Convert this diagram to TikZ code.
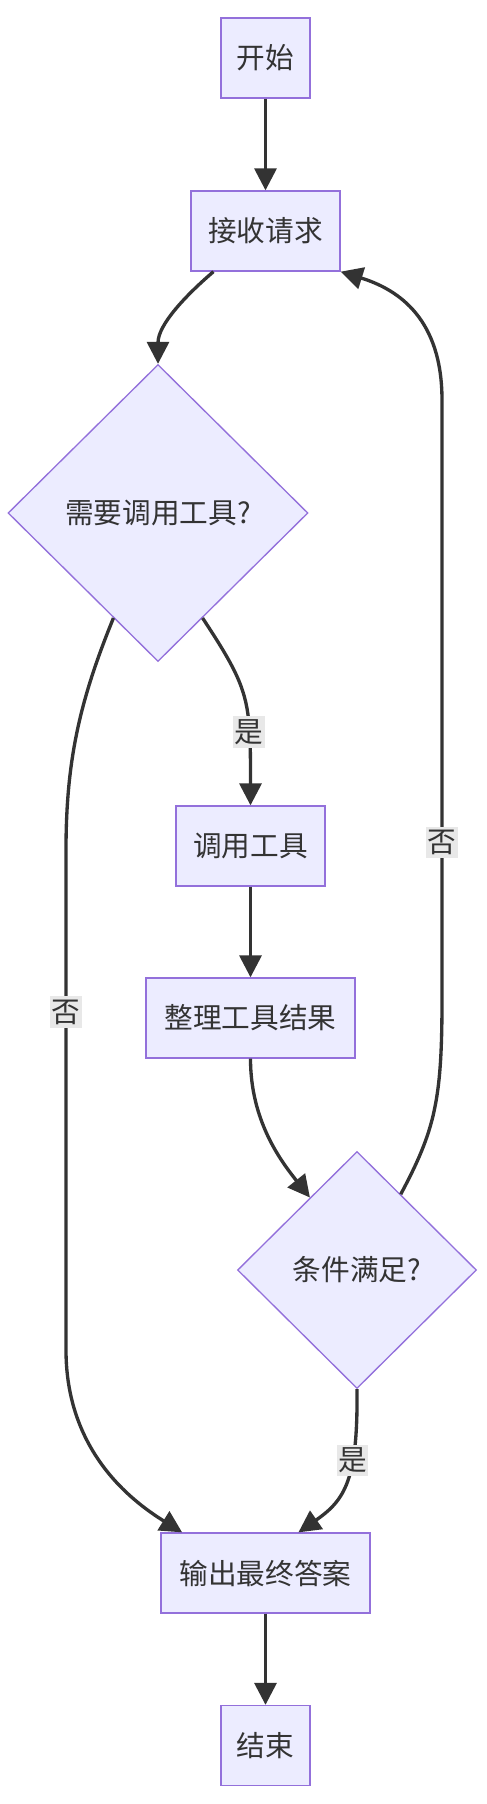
\documentclass[tikz,border=0pt]{standalone}
\usepackage{fontspec}
\setmainfont{Noto Sans CJK SC}
\usetikzlibrary{shapes.geometric,arrows.meta}

\definecolor{boxfill}{RGB}{236,236,255}
\definecolor{boxline}{RGB}{147,112,219}
\definecolor{edgeline}{RGB}{51,51,51}
\definecolor{lblfill}{RGB}{232,232,232}

\tikzset{every picture/.style={line width=0.75pt}}
\tikzset{
  procbox/.style={draw=boxline, fill=boxfill, line width=1pt, text=edgeline,
    font=\fontsize{21.5}{26}\selectfont, inner sep=0pt, minimum height=60pt},
  decbox/.style={diamond, aspect=1, draw=boxline, fill=boxfill, line width=1pt,
    text=edgeline, font=\fontsize{21.5}{26}\selectfont, inner sep=0pt},
  flow/.style={draw=edgeline, line width=2.5pt, -{Triangle[length=16.5pt,width=16.5pt]}},
  edgelbl/.style={fill=lblfill, text=edgeline, font=\fontsize{21.5}{26}\selectfont,
    inner xsep=1pt, inner ysep=2.5pt}
}

\begin{document}
\begin{tikzpicture}[x=0.75pt,y=0.75pt,yscale=-1,xscale=1]
\useasboundingbox[fill=white] (0,0) rectangle (486,1804);

%Shape: Rectangle
\node [procbox, minimum width=66.75pt] (start) at (265.5,58) {开始};
%Shape: Rectangle
\node [procbox, minimum width=111.75pt] (recv) at (265.5,231) {接收请求};
%Shape: Diamond
\node [decbox, minimum width=225pt, minimum height=222.75pt] (needtool) at (158,513) {需要调用工具?};
%Shape: Rectangle
\node [procbox, minimum width=111.75pt] (calltool) at (250.5,846) {调用工具};
%Shape: Rectangle
\node [procbox, minimum width=156.75pt] (tidy) at (250.5,1018) {整理工具结果};
%Shape: Diamond
\node [decbox, minimum width=179.25pt, minimum height=177.75pt] (cond) at (357,1270) {条件满足?};
%Shape: Rectangle
\node [procbox, minimum width=156.75pt] (answer) at (265.5,1573) {输出最终答案};
%Shape: Rectangle
\node [procbox, minimum width=66.75pt] (stop) at (265.5,1745.5) {结束};

%Straight Lines
\draw [flow] (start.south) -- (recv.north);
%Curve Lines
\draw [flow] (recv.218) .. controls (185,296) and (158,325) .. (needtool.north);
%Curve Lines
\draw [flow] (needtool.293) .. controls (250,690) and (250.5,700) .. node [edgelbl, pos=0.7] {是} (calltool.north);
%Straight Lines
\draw [flow] (calltool.south) -- (tidy.north);
%Curve Lines
\draw [flow] (tidy.south) .. controls (250.5,1120) and (280,1160) .. (cond.123);
%Curve Lines
\draw [flow] (cond.60) .. controls (435,1130) and (442,1100) .. (442,1000)
  -- node [edgelbl, pos=0.263] {否} (442,400)
  .. controls (442,320) and (400,290) .. (recv.south east);
%Curve Lines
\draw [flow] (needtool.247) .. controls (80,700) and (66,760) .. (66,850)
  -- node [edgelbl, pos=0.324] {否} (66,1350)
  .. controls (66,1450) and (130,1500) .. (answer.154);
%Curve Lines
\draw [flow] (cond.south) .. controls (358,1480) and (345,1500) .. node [edgelbl, pos=0.34] {是} (answer.51);
%Straight Lines
\draw [flow] (answer.south) -- (stop.north);

\end{tikzpicture}
\end{document}
